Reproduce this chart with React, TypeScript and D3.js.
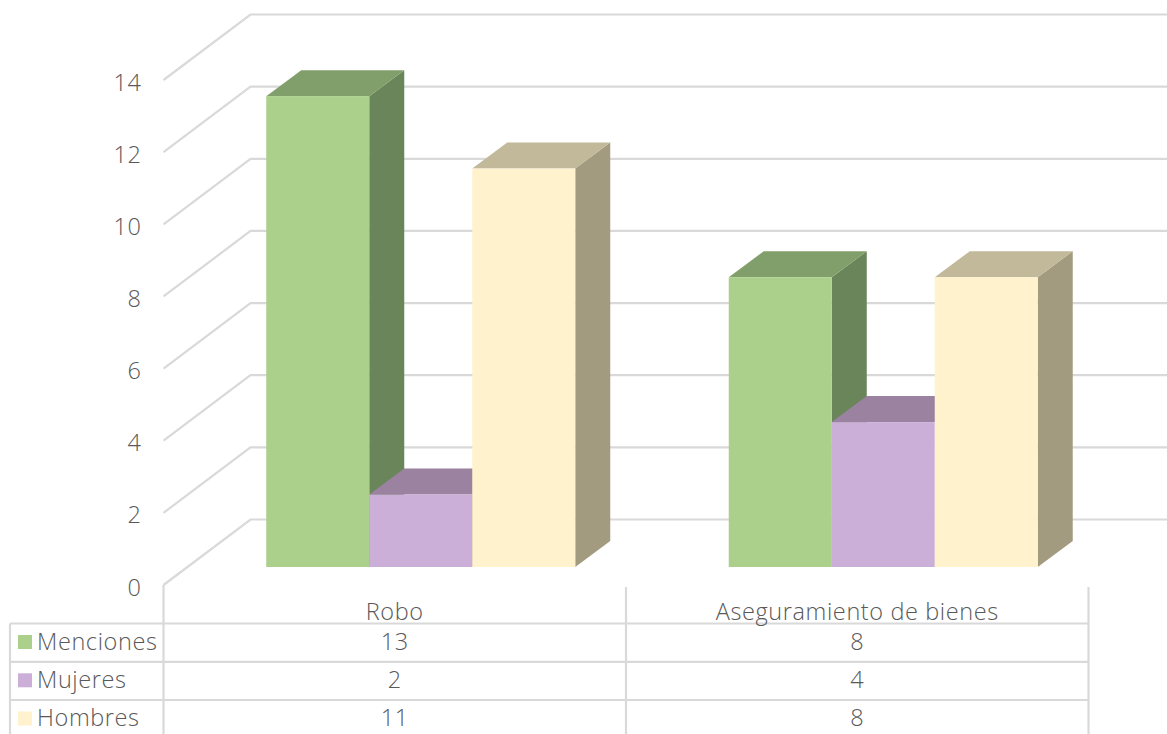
import React from "react";
import * as d3 from "d3";

const categories = ["Robo", "Aseguramiento de bienes"];
const seriesNames = ["Menciones", "Mujeres", "Hombres"];
const menciones = [13, 8];
const mujeres = [2, 4];
const hombres = [11, 8];
const allSeries = [menciones, mujeres, hombres];
const yTicks = [0, 2, 4, 6, 8, 10, 12, 14];
const frontColors = ["#AAD08C", "#CBAFD8", "#FFF2CC"];
const sideColors = ["#6A855A", "#7F6F87", "#A39B80"];
const topColors = ["#819F6B", "#9A82A0", "#C2B89A"];

const W = 1167, H = 734;
const GRID = "#D9D9D9", TEXT = "#595959";
const FONT = "'Open Sans', Lato, sans-serif";

// front-plane value scale of the axis wall
const yFront = d3.scaleLinear().domain([0, 14]).range([585, 80]);
const wallDx = 87, wallDy = -65.5;
const wallRight = 1167;

// bars
const x0Cat = d3.scaleBand<string>().domain(categories).range([163.5, 1088.5]);
const barW = 103;
const barDx = 35, barDy = -26;
const barBaseY = 567;
const barFloorShift = 26;
const yBar = d3.scaleLinear().domain([0, 14]).range([barBaseY, barBaseY - 14 * 36.22]);

// table
const colX = [163.5, 626, 1088.5];
const tableLeft = 10;
const rowY = [623.5, 661.8, 700];

const poly = (pts: number[][]) => pts.map((p) => p.join(",")).join(" ");

export default function App() {
  return (
    <svg
      width={W}
      height={H}
      viewBox={`0 0 ${W} ${H}`}
      style={{ position: "absolute", left: 0, top: 0, display: "block", background: "#fff" }}
      fontFamily={FONT}
      fontWeight={300}
      fill={TEXT}
      fontSize={23.5}
      letterSpacing={0.6}
    >
      {/* wall + gridlines */}
      {yTicks.map((t) => {
        const y = yFront(t);
        return (
          <polyline
            key={t}
            points={poly([[163.5, y], [163.5 + wallDx, y + wallDy], [wallRight, y + wallDy]])}
            fill="none"
            stroke={GRID}
            strokeWidth={2.2}
          />
        );
      })}
      {yTicks.map((t) => (
        <text key={t} x={141.5} y={yFront(t) + 10.5} textAnchor="end">
          {t}
        </text>
      ))}

      {/* bars */}
      {categories.map((c, ci) => {
        const cx = x0Cat(c)! + x0Cat.bandwidth() / 2 + barFloorShift;
        const start = cx - (barW * allSeries.length) / 2;
        return (
          <g key={c}>
            {allSeries.map((s, si) => {
              const x = start + si * barW;
              const yT = yBar(s[ci]);
              return (
                <g key={si}>
                  <polygon
                    points={poly([[x + barW, yT], [x + barW + barDx, yT + barDy], [x + barW + barDx, barBaseY + barDy], [x + barW, barBaseY]])}
                    fill={sideColors[si]}
                  />
                  <polygon
                    points={poly([[x, yT], [x + barDx, yT + barDy], [x + barW + barDx, yT + barDy], [x + barW, yT]])}
                    fill={topColors[si]}
                  />
                  <rect x={x} y={yT} width={barW} height={barBaseY - yT} fill={frontColors[si]} />
                </g>
              );
            })}
          </g>
        );
      })}

      {/* data table */}
      <g stroke={GRID} strokeWidth={2.2}>
        {rowY.map((y) => (
          <line key={y} x1={tableLeft} x2={colX[2]} y1={y} y2={y} />
        ))}
        <line x1={tableLeft} x2={tableLeft} y1={rowY[0]} y2={H} />
        <line x1={colX[0]} x2={colX[0]} y1={585} y2={H} />
        <line x1={colX[1]} x2={colX[1]} y1={587} y2={H} />
        <line x1={colX[2]} x2={colX[2]} y1={587} y2={H} />
      </g>
      {categories.map((c, ci) => (
        <text key={c} x={x0Cat(c)! + x0Cat.bandwidth() / 2} y={619.5} textAnchor="middle">
          {c}
        </text>
      ))}
      {seriesNames.map((n, si) => (
        <g key={n}>
          <rect x={18} y={rowY[si] + 11.5} width={14} height={14} fill={frontColors[si]} />
          <text x={37} y={rowY[si] + 26}>
            {n}
          </text>
          {categories.map((c, ci) => (
            <text key={c} x={x0Cat(c)! + x0Cat.bandwidth() / 2} y={rowY[si] + 26} textAnchor="middle">
              {allSeries[si][ci]}
            </text>
          ))}
        </g>
      ))}
    </svg>
  );
}
